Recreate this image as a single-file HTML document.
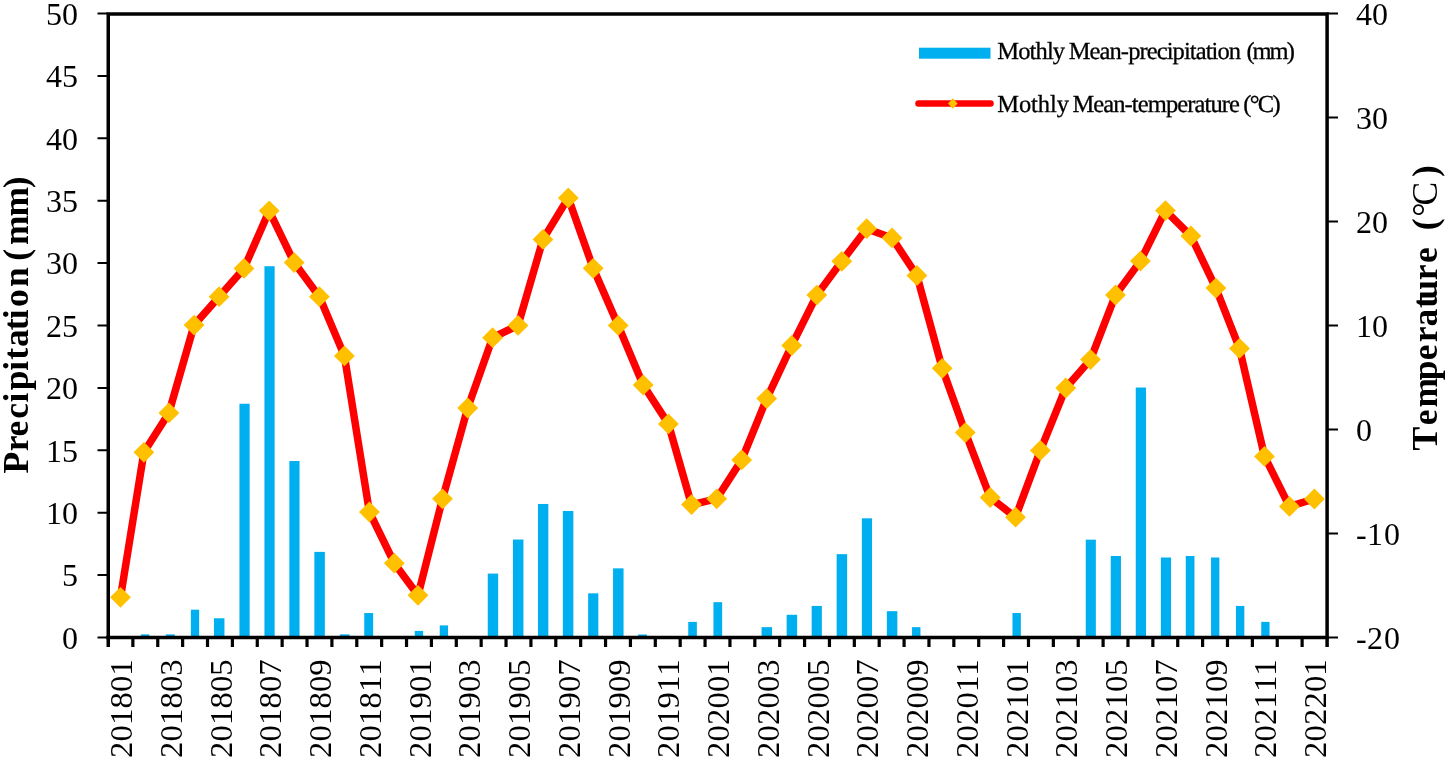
<!DOCTYPE html>
<html lang="en"><head><meta charset="utf-8"><title>Monthly mean precipitation and temperature</title>
<style>html,body{margin:0;padding:0;background:#fff}body{width:1450px;height:761px;overflow:hidden}svg{display:block}text{font-family:"Liberation Serif",serif;fill:#000}</style></head><body>
<svg width="1450" height="761" viewBox="0 0 1450 761">
<rect width="1450" height="761" fill="#fff"/>
<g fill="#00AFF0">
<rect x="140.85" y="634.38" width="8.40" height="3.12"/>
<rect x="165.85" y="634.38" width="8.90" height="3.12"/>
<rect x="190.85" y="609.67" width="8.30" height="27.83"/>
<rect x="213.95" y="618.28" width="10.50" height="19.22"/>
<rect x="239.45" y="403.75" width="10.20" height="233.75"/>
<rect x="264.45" y="266.22" width="10.20" height="371.28"/>
<rect x="289.35" y="461.03" width="10.20" height="176.47"/>
<rect x="314.35" y="551.89" width="10.50" height="85.61"/>
<rect x="339.85" y="634.38" width="9.70" height="3.12"/>
<rect x="364.25" y="613.04" width="8.90" height="24.46"/>
<rect x="414.75" y="630.89" width="8.40" height="6.61"/>
<rect x="439.75" y="625.39" width="8.30" height="12.11"/>
<rect x="487.75" y="573.60" width="10.40" height="63.90"/>
<rect x="512.95" y="539.53" width="10.50" height="97.97"/>
<rect x="537.95" y="503.96" width="10.40" height="133.54"/>
<rect x="562.85" y="510.95" width="10.50" height="126.55"/>
<rect x="588.15" y="593.32" width="10.20" height="44.18"/>
<rect x="613.05" y="568.36" width="10.50" height="69.14"/>
<rect x="638.05" y="634.50" width="8.90" height="3.00"/>
<rect x="688.25" y="621.90" width="8.60" height="15.60"/>
<rect x="713.45" y="602.18" width="8.70" height="35.32"/>
<rect x="761.55" y="627.14" width="10.50" height="10.36"/>
<rect x="786.65" y="614.79" width="10.50" height="22.71"/>
<rect x="811.65" y="605.93" width="10.20" height="31.57"/>
<rect x="836.65" y="554.13" width="10.50" height="83.37"/>
<rect x="861.85" y="518.32" width="10.20" height="119.18"/>
<rect x="886.85" y="611.17" width="10.50" height="26.33"/>
<rect x="912.05" y="627.14" width="8.40" height="10.36"/>
<rect x="1012.45" y="613.04" width="8.40" height="24.46"/>
<rect x="1085.75" y="539.66" width="10.10" height="97.84"/>
<rect x="1110.75" y="556.01" width="10.20" height="81.49"/>
<rect x="1135.75" y="387.53" width="10.30" height="249.97"/>
<rect x="1160.85" y="557.50" width="10.20" height="80.00"/>
<rect x="1185.75" y="556.01" width="8.70" height="81.49"/>
<rect x="1211.05" y="557.50" width="8.30" height="80.00"/>
<rect x="1235.95" y="605.93" width="8.40" height="31.57"/>
<rect x="1261.25" y="621.90" width="8.30" height="15.60"/>
</g>
<g stroke="#000" fill="none">
<path d="M108.25 647.0V13.9H1327.1V647.0" stroke-width="3.5" stroke-linejoin="miter"/>
<path d="M106.2 637.5H1328.8" stroke-width="3.6"/>
<path d="M132.88 637.5v9.5M157.76 637.5v9.5M182.63 637.5v9.5M207.51 637.5v9.5M232.39 637.5v9.5M257.27 637.5v9.5M282.14 637.5v9.5M307.02 637.5v9.5M331.90 637.5v9.5M356.78 637.5v9.5M381.65 637.5v9.5M406.53 637.5v9.5M431.41 637.5v9.5M456.29 637.5v9.5M481.16 637.5v9.5M506.04 637.5v9.5M530.92 637.5v9.5M555.80 637.5v9.5M580.67 637.5v9.5M605.55 637.5v9.5M630.43 637.5v9.5M655.31 637.5v9.5M680.18 637.5v9.5M705.06 637.5v9.5M729.94 637.5v9.5M754.82 637.5v9.5M779.69 637.5v9.5M804.57 637.5v9.5M829.45 637.5v9.5M854.33 637.5v9.5M879.20 637.5v9.5M904.08 637.5v9.5M928.96 637.5v9.5M953.84 637.5v9.5M978.71 637.5v9.5M1003.59 637.5v9.5M1028.47 637.5v9.5M1053.35 637.5v9.5M1078.22 637.5v9.5M1103.10 637.5v9.5M1127.98 637.5v9.5M1152.86 637.5v9.5M1177.73 637.5v9.5M1202.61 637.5v9.5M1227.49 637.5v9.5M1252.37 637.5v9.5M1277.24 637.5v9.5M1302.12 637.5v9.5" stroke-width="3.2"/>
<path d="M97.5 637.50h10.5M97.5 575.10h10.5M97.5 512.70h10.5M97.5 450.30h10.5M97.5 387.90h10.5M97.5 325.50h10.5M97.5 263.10h10.5M97.5 200.70h10.5M97.5 138.30h10.5M97.5 75.90h10.5M97.5 13.50h10.5" stroke-width="2"/>
<path d="M1327.0 637.50h11M1327.0 533.50h11M1327.0 429.50h11M1327.0 325.50h11M1327.0 221.50h11M1327.0 117.50h11M1327.0 13.50h11" stroke-width="2"/>
</g>
<polyline points="120.50,597.30 143.90,452.30 168.90,412.90 194.10,325.10 219.10,296.70 244.00,268.40 269.20,210.80 294.20,262.60 319.40,296.70 344.40,355.90 369.40,512.00 394.30,563.20 418.00,595.30 442.50,498.80 467.70,408.00 492.60,337.70 518.00,325.40 543.00,239.40 568.30,197.90 593.20,268.30 618.20,325.40 643.20,385.00 668.40,423.90 691.50,504.60 716.70,498.80 741.70,459.90 766.70,398.60 791.70,345.50 816.80,295.10 841.80,261.30 866.70,228.70 892.00,237.90 916.90,275.50 942.20,368.30 965.30,432.60 990.20,497.50 1015.50,517.20 1040.40,450.40 1065.70,388.00 1090.50,359.60 1115.50,295.00 1140.40,261.10 1165.40,210.60 1190.90,236.00 1215.90,288.10 1239.50,348.40 1264.50,456.40 1289.40,506.40 1314.40,499.00" fill="none" stroke="#FF0000" stroke-width="7.5" stroke-linejoin="round" stroke-linecap="round"/>
<g fill="#FFC000">
<path d="M120.50 586.90L130.90 597.30L120.50 607.70L110.10 597.30Z"/>
<path d="M143.90 441.90L154.30 452.30L143.90 462.70L133.50 452.30Z"/>
<path d="M168.90 402.50L179.30 412.90L168.90 423.30L158.50 412.90Z"/>
<path d="M194.10 314.70L204.50 325.10L194.10 335.50L183.70 325.10Z"/>
<path d="M219.10 286.30L229.50 296.70L219.10 307.10L208.70 296.70Z"/>
<path d="M244.00 258.00L254.40 268.40L244.00 278.80L233.60 268.40Z"/>
<path d="M269.20 200.40L279.60 210.80L269.20 221.20L258.80 210.80Z"/>
<path d="M294.20 252.20L304.60 262.60L294.20 273.00L283.80 262.60Z"/>
<path d="M319.40 286.30L329.80 296.70L319.40 307.10L309.00 296.70Z"/>
<path d="M344.40 345.50L354.80 355.90L344.40 366.30L334.00 355.90Z"/>
<path d="M369.40 501.60L379.80 512.00L369.40 522.40L359.00 512.00Z"/>
<path d="M394.30 552.80L404.70 563.20L394.30 573.60L383.90 563.20Z"/>
<path d="M418.00 584.90L428.40 595.30L418.00 605.70L407.60 595.30Z"/>
<path d="M442.50 488.40L452.90 498.80L442.50 509.20L432.10 498.80Z"/>
<path d="M467.70 397.60L478.10 408.00L467.70 418.40L457.30 408.00Z"/>
<path d="M492.60 327.30L503.00 337.70L492.60 348.10L482.20 337.70Z"/>
<path d="M518.00 315.00L528.40 325.40L518.00 335.80L507.60 325.40Z"/>
<path d="M543.00 229.00L553.40 239.40L543.00 249.80L532.60 239.40Z"/>
<path d="M568.30 187.50L578.70 197.90L568.30 208.30L557.90 197.90Z"/>
<path d="M593.20 257.90L603.60 268.30L593.20 278.70L582.80 268.30Z"/>
<path d="M618.20 315.00L628.60 325.40L618.20 335.80L607.80 325.40Z"/>
<path d="M643.20 374.60L653.60 385.00L643.20 395.40L632.80 385.00Z"/>
<path d="M668.40 413.50L678.80 423.90L668.40 434.30L658.00 423.90Z"/>
<path d="M691.50 494.20L701.90 504.60L691.50 515.00L681.10 504.60Z"/>
<path d="M716.70 488.40L727.10 498.80L716.70 509.20L706.30 498.80Z"/>
<path d="M741.70 449.50L752.10 459.90L741.70 470.30L731.30 459.90Z"/>
<path d="M766.70 388.20L777.10 398.60L766.70 409.00L756.30 398.60Z"/>
<path d="M791.70 335.10L802.10 345.50L791.70 355.90L781.30 345.50Z"/>
<path d="M816.80 284.70L827.20 295.10L816.80 305.50L806.40 295.10Z"/>
<path d="M841.80 250.90L852.20 261.30L841.80 271.70L831.40 261.30Z"/>
<path d="M866.70 218.30L877.10 228.70L866.70 239.10L856.30 228.70Z"/>
<path d="M892.00 227.50L902.40 237.90L892.00 248.30L881.60 237.90Z"/>
<path d="M916.90 265.10L927.30 275.50L916.90 285.90L906.50 275.50Z"/>
<path d="M942.20 357.90L952.60 368.30L942.20 378.70L931.80 368.30Z"/>
<path d="M965.30 422.20L975.70 432.60L965.30 443.00L954.90 432.60Z"/>
<path d="M990.20 487.10L1000.60 497.50L990.20 507.90L979.80 497.50Z"/>
<path d="M1015.50 506.80L1025.90 517.20L1015.50 527.60L1005.10 517.20Z"/>
<path d="M1040.40 440.00L1050.80 450.40L1040.40 460.80L1030.00 450.40Z"/>
<path d="M1065.70 377.60L1076.10 388.00L1065.70 398.40L1055.30 388.00Z"/>
<path d="M1090.50 349.20L1100.90 359.60L1090.50 370.00L1080.10 359.60Z"/>
<path d="M1115.50 284.60L1125.90 295.00L1115.50 305.40L1105.10 295.00Z"/>
<path d="M1140.40 250.70L1150.80 261.10L1140.40 271.50L1130.00 261.10Z"/>
<path d="M1165.40 200.20L1175.80 210.60L1165.40 221.00L1155.00 210.60Z"/>
<path d="M1190.90 225.60L1201.30 236.00L1190.90 246.40L1180.50 236.00Z"/>
<path d="M1215.90 277.70L1226.30 288.10L1215.90 298.50L1205.50 288.10Z"/>
<path d="M1239.50 338.00L1249.90 348.40L1239.50 358.80L1229.10 348.40Z"/>
<path d="M1264.50 446.00L1274.90 456.40L1264.50 466.80L1254.10 456.40Z"/>
<path d="M1289.40 496.00L1299.80 506.40L1289.40 516.80L1279.00 506.40Z"/>
<path d="M1314.40 488.60L1324.80 499.00L1314.40 509.40L1304.00 499.00Z"/>
</g>
<g font-size="32">
<text x="78" text-anchor="end" y="648.70">0</text>
<text x="78" text-anchor="end" y="586.30">5</text>
<text x="78" text-anchor="end" y="523.90">10</text>
<text x="78" text-anchor="end" y="461.50">15</text>
<text x="78" text-anchor="end" y="399.10">20</text>
<text x="78" text-anchor="end" y="336.70">25</text>
<text x="78" text-anchor="end" y="274.30">30</text>
<text x="78" text-anchor="end" y="211.90">35</text>
<text x="78" text-anchor="end" y="149.50">40</text>
<text x="78" text-anchor="end" y="87.10">45</text>
<text x="78" text-anchor="end" y="24.70">50</text>
<text x="1356 1367 1384" y="648.70">-20</text>
<text x="1356 1367 1384" y="544.70">-10</text>
<text x="1356" y="440.70">0</text>
<text x="1356" y="336.70">10</text>
<text x="1356" y="232.70">20</text>
<text x="1356" y="128.70">30</text>
<text x="1356" y="24.70">40</text>
</g>
<g font-size="32.7" letter-spacing="0.15" style="font-kerning:none">
<text transform="translate(132.04 758.1) rotate(-90) scale(1 0.97)">201801</text>
<text transform="translate(181.79 758.1) rotate(-90) scale(1 0.97)">201803</text>
<text transform="translate(231.55 758.1) rotate(-90) scale(1 0.97)">201805</text>
<text transform="translate(281.30 758.1) rotate(-90) scale(1 0.97)">201807</text>
<text transform="translate(331.06 758.1) rotate(-90) scale(1 0.97)">201809</text>
<text transform="translate(380.81 758.1) rotate(-90) scale(1 0.97)">201811</text>
<text transform="translate(430.57 758.1) rotate(-90) scale(1 0.97)">201901</text>
<text transform="translate(480.32 758.1) rotate(-90) scale(1 0.97)">201903</text>
<text transform="translate(530.08 758.1) rotate(-90) scale(1 0.97)">201905</text>
<text transform="translate(579.83 758.1) rotate(-90) scale(1 0.97)">201907</text>
<text transform="translate(629.59 758.1) rotate(-90) scale(1 0.97)">201909</text>
<text transform="translate(679.34 758.1) rotate(-90) scale(1 0.97)">201911</text>
<text transform="translate(729.10 758.1) rotate(-90) scale(1 0.97)">202001</text>
<text transform="translate(778.86 758.1) rotate(-90) scale(1 0.97)">202003</text>
<text transform="translate(828.61 758.1) rotate(-90) scale(1 0.97)">202005</text>
<text transform="translate(878.37 758.1) rotate(-90) scale(1 0.97)">202007</text>
<text transform="translate(928.12 758.1) rotate(-90) scale(1 0.97)">202009</text>
<text transform="translate(977.88 758.1) rotate(-90) scale(1 0.97)">202011</text>
<text transform="translate(1027.63 758.1) rotate(-90) scale(1 0.97)">202101</text>
<text transform="translate(1077.39 758.1) rotate(-90) scale(1 0.97)">202103</text>
<text transform="translate(1127.14 758.1) rotate(-90) scale(1 0.97)">202105</text>
<text transform="translate(1176.90 758.1) rotate(-90) scale(1 0.97)">202107</text>
<text transform="translate(1226.65 758.1) rotate(-90) scale(1 0.97)">202109</text>
<text transform="translate(1276.41 758.1) rotate(-90) scale(1 0.97)">202111</text>
<text transform="translate(1326.16 758.1) rotate(-90) scale(1 0.97)">202201</text>
</g>
<text transform="translate(28.4 473.4) rotate(-90)" font-size="35.5" font-weight="bold" x="0 22.1 36.8 54.7 71.0 83.1 102.6 113.7 126.3 143.1 154.2 166.3 186.3 205 212.6 228.4 256.8 285.2">Precipitation (mm)</text>
<text transform="translate(1437.4 450.6) rotate(-90)" font-size="35.5" font-weight="bold" x="0 25.3 43 70.3 90.3 108.4 124.2 142.5 150.9 170.4 187.6 205 220.4 233.9 245 273.5">Temperature (<tspan font-weight="normal">°C</tspan>)</text>
<rect x="919" y="47.7" width="71.5" height="11" fill="#00AFF0"/>
<text y="58.6" font-size="24.5" text-rendering="geometricPrecision" stroke="#000" stroke-width="0.3"><tspan x="997.3" textLength="67.8" lengthAdjust="spacing">Mothly</tspan> <tspan x="1068.7" textLength="172.4" lengthAdjust="spacing">Mean-precipitation</tspan> <tspan x="1246.4" textLength="48.4" lengthAdjust="spacing">(mm)</tspan></text>
<path d="M918.5 103.5H990.5" stroke="#FF0000" stroke-width="6.5" stroke-linecap="round" fill="none"/>
<path d="M952.8 98.3L957.6 103.5L952.8 108.7L948 103.5Z" fill="#FFC000"/>
<text y="111.9" font-size="24.5" text-rendering="geometricPrecision" stroke="#000" stroke-width="0.3"><tspan x="997.3" textLength="71.6" lengthAdjust="spacing">Mothly</tspan> <tspan x="1072.4" textLength="167.5" lengthAdjust="spacing">Mean-temperature</tspan><tspan x="1243.3" textLength="37.3" lengthAdjust="spacing">(°C)</tspan></text>
</svg></body></html>
